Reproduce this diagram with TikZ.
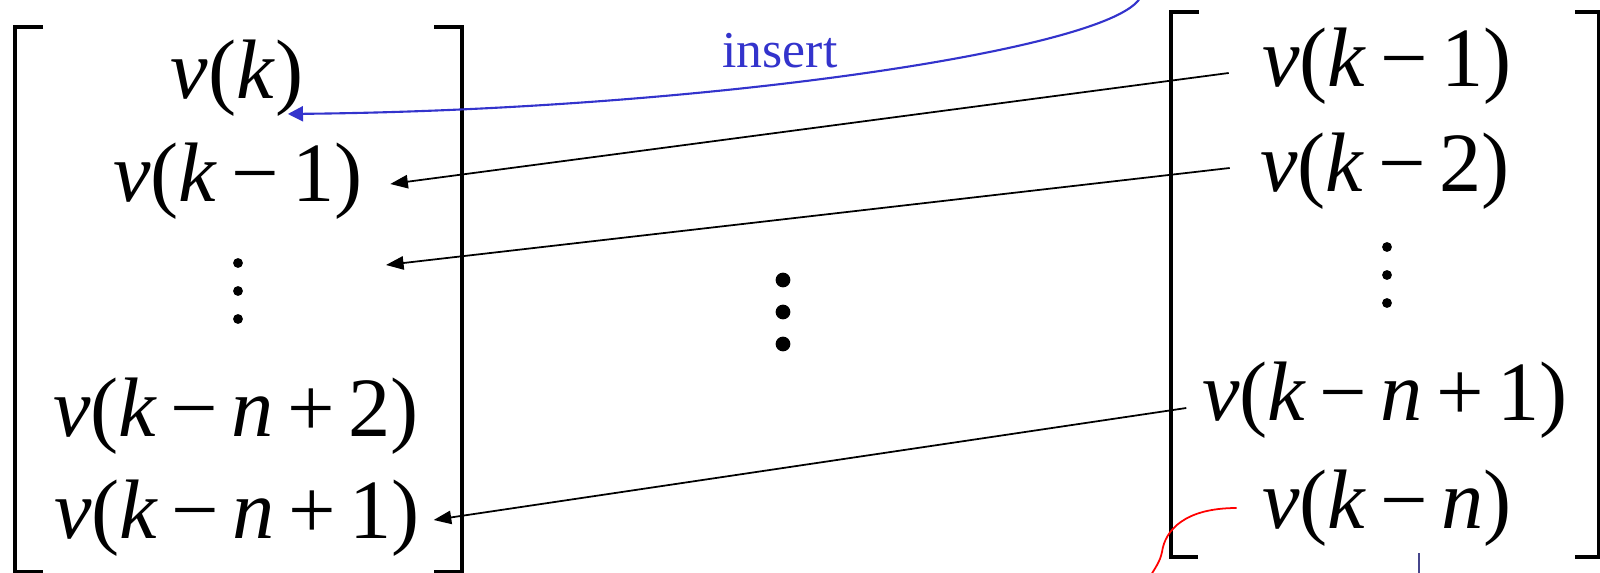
\documentclass[tikz,border=0pt]{standalone}
\usepackage{fontspec}
\setmainfont{LiberationSerif}[Extension=.ttf,UprightFont=*-Regular,ItalicFont=*-Italic]
\usetikzlibrary{arrows.meta,calc}

\definecolor{insblue}{RGB}{51,51,204}
\definecolor{spikeblue}{RGB}{70,70,140}

\newcommand{\vx}[1]{\textit{v}(#1)}
\newcommand{\mi}{\kern.16em−\kern.16em}
\newcommand{\pl}{\kern.16em+\kern.16em}

\begin{document}
\begin{tikzpicture}[x=0.01cm,y=-0.01cm,font=\fontsize{24}{28}\selectfont]
\tikzstyle{entry}=[inner sep=0pt,anchor=center]
\tikzstyle{brk}=[line width=1.1pt]
\tikzstyle{mv}=[-{Triangle[length=5pt,width=3.8pt]},line width=0.5pt]
\tikzstyle{ins}=[-{Triangle[length=4.3pt,width=4.3pt]},line width=0.6pt,insblue]
\useasboundingbox (0,0) rectangle (1600,573);

% old vector (left)
\node[entry] (lk) at (237,78) {\vx{\textit{k}}};
\node[entry] (lk1) at (238,181) {\vx{\textit{k}\mi1}};
\coordinate (ldots) at (238,291);
\node[entry] (lkn2) at (236,416) {\vx{\textit{k}\mi\textit{n}\pl2}};
\node[entry] (lkn1) at (237,518) {\vx{\textit{k}\mi\textit{n}\pl1}};
\foreach \d in {-28,0,28} \fill ($(ldots)+(0,\d)$) circle (1.4pt);
\draw[brk] (43,27) -- (15,27) -- (15,572) -- (43,572);
\draw[brk] (434,27) -- (462,27) -- (462,572) -- (434,572);

% shifted vector (right)
\node[entry] (rk1) at (1387,66) {\vx{\textit{k}\mi1}};
\node[entry] (rk2) at (1385,171) {\vx{\textit{k}\mi2}};
\coordinate (rdots) at (1387,275);
\node[entry] (rkn1) at (1385,400) {\vx{\textit{k}\mi\textit{n}\pl1}};
\node[entry] (rkn) at (1387,508) {\vx{\textit{k}\mi\textit{n}}};
\foreach \d in {-28,0,28} \fill ($(rdots)+(0,\d)$) circle (1.4pt);
\draw[brk] (1199,12) -- (1171,12) -- (1171,557) -- (1198,557);
\draw[brk] (1575,12) -- (1599,12) -- (1599,557) -- (1575,557);

% big dots in between
\coordinate (mdots) at (783,312);
\foreach \d in {-32,0,32} \fill ($(mdots)+(0,\d)$) circle (2.1pt);

% moves
\draw[mv] ([shift={(-33,7)}]rk1.west) -- ([shift={(27,3)}]lk1.east);
\coordinate (ldotsin) at (386,265);
\draw[mv] ([shift={(-30,-3)}]rk2.west) -- (ldotsin);
\draw[mv] ([shift={(-15,8)}]rkn1.west) -- ([shift={(13,2)}]lkn1.east);

% new sample
\coordinate (src) at (1140,-2);
\draw[ins] (src) .. controls (1110,50) and (700,110) .. ([shift={(-16,-3)}]lk.south east);
\node[insblue,font=\fontsize{14.7}{17}\selectfont,anchor=base] (lbl) at (780,68) {insert};

% dropped sample
\coordinate (drop) at (1148,580);
\draw[red,line width=0.5pt] ([shift={(-25,0)}]rkn.west) .. controls (1185,508) and (1165,530) .. (1162,552) .. controls (1160,562) and (1155,568) .. (drop);
\draw[spikeblue,line width=0.6pt] (1419,553) -- (1419,573);
\end{tikzpicture}
\end{document}
